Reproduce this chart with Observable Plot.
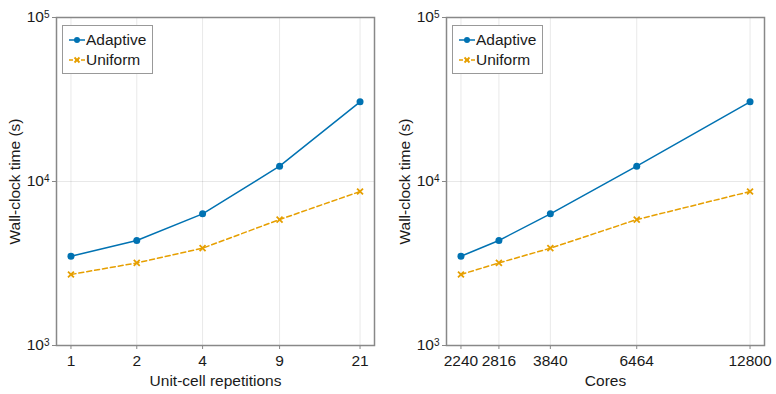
<!DOCTYPE html>
<html>
<head>
<meta charset="utf-8">
<script src="https://cdn.jsdelivr.net/npm/d3@7"></script>
<script src="https://cdn.jsdelivr.net/npm/@observablehq/plot@0.6"></script>
<style>
  html, body { margin: 0; padding: 0; background: white; }
  #wrap { display: flex; width: 776px; height: 394px; }
  .panel { position: relative; width: 388px; height: 394px; }
  .legend { position: absolute; }
</style>
</head>
<body>
<div id="wrap"></div>
<script>
// ---- data ----
const repetitions = [1, 2, 4, 9, 21];
const cores = [2240, 2816, 3840, 6464, 12800];
const adaptiveTime = [3500, 4370, 6350, 12400, 30600];
const uniformTime = [2710, 3190, 3920, 5860, 8690];
const seriesNames = ["Adaptive", "Uniform"];
const yTickValues = [1e3, 1e4, 1e5];

const BLUE = "#0072B2";
const ORANGE = "#E69F00";
const FONT = "'Liberation Sans', Arial, Helvetica, sans-serif";

function padLog(vals, frac) {
  const lo = Math.log(d3.min(vals)), hi = Math.log(d3.max(vals));
  const m = (hi - lo) * frac;
  return [Math.exp(lo - m), Math.exp(hi + m)];
}

function panel(xs, xLabel, marginLeft, marginRight) {
  const rows = [];
  xs.forEach((x, i) => {
    rows.push({x, y: adaptiveTime[i], s: seriesNames[0]});
    rows.push({x, y: uniformTime[i], s: seriesNames[1]});
  });
  const A = rows.filter(d => d.s === "Adaptive");
  const U = rows.filter(d => d.s === "Uniform");
  const plot = Plot.plot({
    width: 388, height: 394,
    marginTop: 17, marginBottom: 49, marginLeft, marginRight,
    style: {fontFamily: FONT, fontSize: "15.5px", color: "#1a1a1a", background: "white"},
    x: {type: "log", domain: padLog(xs, 0.05)},
    y: {type: "log", domain: [1e3, 1e5]},
    marks: [
      Plot.gridX(xs, {stroke: "#000", strokeOpacity: 0.09}),
      Plot.gridY(yTickValues, {stroke: "#000", strokeOpacity: 0.09}),
      Plot.axisX(xs, {ticks: 1000, tickFormat: d => String(d), tickSize: 4, tickPadding: 5,
        stroke: "#888", fill: "#1a1a1a", label: xLabel, labelAnchor: "center",
        labelArrow: "none", labelOffset: 40}),
      Plot.axisY(yTickValues, {ticks: 1000, tickFormat: d => "10^" + Math.round(Math.log10(d)),
        tickSize: 4, tickPadding: 3, stroke: "#888", fill: "#1a1a1a",
        label: "Wall-clock time (s)", labelAnchor: "center", labelArrow: "none", labelOffset: 48}),
      Plot.frame({stroke: "#888", strokeWidth: 1.5}),
      Plot.line(A, {x: "x", y: "y", stroke: BLUE, strokeWidth: 1.5}),
      Plot.line(U, {x: "x", y: "y", stroke: ORANGE, strokeWidth: 1.5, strokeDasharray: "5,3"}),
      Plot.dot(A, {x: "x", y: "y", fill: BLUE, r: 3.5, stroke: null}),
      Plot.dot(U, {x: "x", y: "y", symbol: "times", stroke: ORANGE, strokeWidth: 1.8, r: 2.8})
    ]
  });
  // superscript exponents
  d3.select(plot).selectAll('g[aria-label="y-axis tick label"] text').each(function() {
    const t = this.textContent;
    const m = t.match(/^10\^(\d+)$/);
    if (!m) return;
    const el = d3.select(this);
    el.text("10");
    el.append("tspan").attr("dy", "-4").attr("font-size", "10px").text(m[1]);
  });
  return plot;
}

function legend(left, top) {
  const svg = d3.create("svg").attr("class", "legend")
    .attr("width", 92).attr("height", 50)
    .style("left", left + "px").style("top", top + "px")
    .style("font-family", FONT).style("font-size", "15.5px");
  svg.append("rect").attr("x", 0.5).attr("y", 0.5).attr("width", 90).attr("height", 48)
    .attr("fill", "white").attr("stroke", "#999").attr("stroke-width", 1);
  const entries = [
    {name: seriesNames[0], color: BLUE, dash: null, cy: 15},
    {name: seriesNames[1], color: ORANGE, dash: "4,2", cy: 35}
  ];
  for (const e of entries) {
    svg.append("line").attr("x1", 7).attr("x2", 23).attr("y1", e.cy).attr("y2", e.cy)
      .attr("stroke", e.color).attr("stroke-width", 1.5).attr("stroke-dasharray", e.dash);
    if (e.name === "Adaptive") {
      svg.append("circle").attr("cx", 15).attr("cy", e.cy).attr("r", 3).attr("fill", e.color);
    } else {
      svg.append("path").attr("d", `M12.5,${e.cy-2.5}L17.5,${e.cy+2.5}M12.5,${e.cy+2.5}L17.5,${e.cy-2.5}`)
        .attr("stroke", e.color).attr("stroke-width", 1.8);
    }
    svg.append("text").attr("x", 24).attr("y", e.cy).attr("dy", "0.35em")
      .attr("fill", "#1a1a1a").text(e.name);
  }
  return svg.node();
}

const wrap = document.getElementById("wrap");
const p1 = document.createElement("div"); p1.className = "panel";
p1.appendChild(panel(repetitions, "Unit-cell repetitions", 56, 14));
p1.appendChild(legend(62, 25));
const p2 = document.createElement("div"); p2.className = "panel";
p2.appendChild(panel(cores, "Cores", 58, 12));
p2.appendChild(legend(64, 25));
wrap.appendChild(p1);
wrap.appendChild(p2);
</script>
</body>
</html>
